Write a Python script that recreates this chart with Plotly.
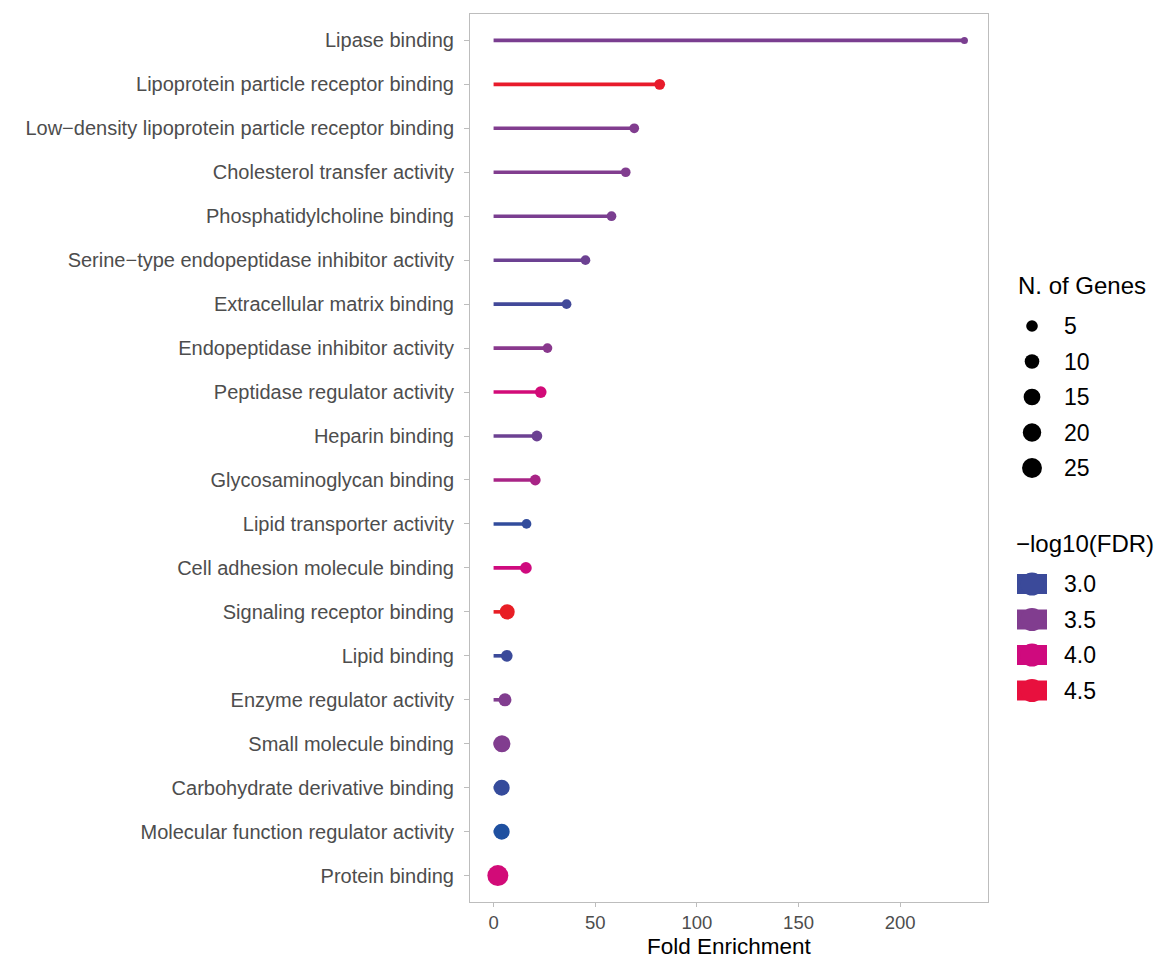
import numpy as np
import plotly.graph_objects as go

# GO molecular-function enrichment results
terms = [
    "Lipase binding",
    "Lipoprotein particle receptor binding",
    "Low\u2212density lipoprotein particle receptor binding",
    "Cholesterol transfer activity",
    "Phosphatidylcholine binding",
    "Serine\u2212type endopeptidase inhibitor activity",
    "Extracellular matrix binding",
    "Endopeptidase inhibitor activity",
    "Peptidase regulator activity",
    "Heparin binding",
    "Glycosaminoglycan binding",
    "Lipid transporter activity",
    "Cell adhesion molecule binding",
    "Signaling receptor binding",
    "Lipid binding",
    "Enzyme regulator activity",
    "Small molecule binding",
    "Carbohydrate derivative binding",
    "Molecular function regulator activity",
    "Protein binding",
]
fold_enrichment = [231.6, 81.7, 69.2, 65.0, 58.0, 45.2, 35.9, 26.5, 23.2, 21.3,
                   20.5, 16.2, 15.9, 6.7, 6.5, 5.6, 4.1, 4.0, 4.0, 2.1]
n_genes = [2, 4, 3, 3, 3, 3, 3, 3, 5, 4, 4, 3, 5, 11, 5, 7, 16, 13, 13, 29]
neg_log10_fdr = [3.45, 4.65, 3.5, 3.5, 3.45, 3.35, 3.05, 3.55, 4.05, 3.35,
                 3.75, 2.95, 4.0, 4.7, 3.0, 3.5, 3.5, 2.97, 2.85, 4.05]

size_breaks = [5, 10, 15, 20, 25]
color_breaks = [3.0, 3.5, 4.0, 4.5]

# colour gradient for -log10(FDR)
grad_vals = [2.85, 3.0, 3.5, 4.0, 4.5, 4.7]
grad_cols = ["#1F50A0", "#3B4A9A", "#813D8F", "#CF0A7E", "#E8103E", "#E81E25"]


def hex_rgb(h):
    h = h.lstrip("#")
    return np.array([int(h[i:i + 2], 16) for i in (0, 2, 4)], dtype=float)


grad_rgb = np.array([hex_rgb(c) for c in grad_cols])


def fdr_color(v):
    rgb = [np.interp(v, grad_vals, grad_rgb[:, k]) for k in range(3)]
    return "rgb({:.0f},{:.0f},{:.0f})".format(*rgb)


# point diameter (px) scaled by area between the gene-count limits
N_MIN, N_MAX = 2, 29
D_MIN, D_MAX = 7.0, 21.0


def gene_size(n):
    t = (n - N_MIN) / (N_MAX - N_MIN)
    return D_MIN + (D_MAX - D_MIN) * np.sqrt(max(t, 0.0))


W, H = 1161, 960
PLOT_L, PLOT_R, PLOT_T, PLOT_B = 470, 988, 14, 902
FONT = "Liberation Sans, Arial, sans-serif"

fig = go.Figure()

# lollipop stems
for term, fe, fd in zip(terms, fold_enrichment, neg_log10_fdr):
    fig.add_trace(go.Scatter(
        x=[0, fe], y=[term, term], mode="lines",
        line=dict(color=fdr_color(fd), width=3.6),
        hoverinfo="skip", showlegend=False,
    ))

# lollipop heads
fig.add_trace(go.Scatter(
    x=fold_enrichment, y=terms, mode="markers",
    marker=dict(size=[gene_size(n) for n in n_genes],
                color=[fdr_color(v) for v in neg_log10_fdr],
                line=dict(width=0), opacity=1),
    customdata=np.column_stack([n_genes, neg_log10_fdr]),
    hovertemplate="%{y}<br>Fold Enrichment: %{x}<br>N. of Genes: %{customdata[0]}"
                  "<br>-log10(FDR): %{customdata[1]}<extra></extra>",
    showlegend=False,
))

# ---- hand-built legends on a pixel-unit helper axis ----
LEG_X = 1032
LABEL_X = 1062
SIZE_TITLE_Y = 285
SIZE_Y0, STEP = 326, 35.5
COLOR_TITLE_Y = 543
COLOR_Y0 = 584

size_ys = [SIZE_Y0 + i * STEP for i in range(len(size_breaks))]
fig.add_trace(go.Scatter(
    x=[LEG_X] * len(size_breaks), y=size_ys, mode="markers",
    marker=dict(size=[gene_size(n) for n in size_breaks], color="#000000",
                line=dict(width=0), opacity=1),
    xaxis="x2", yaxis="y2", hoverinfo="skip", showlegend=False,
))

color_ys = [COLOR_Y0 + i * STEP for i in range(len(color_breaks))]
for cy, cv in zip(color_ys, color_breaks):
    col = fdr_color(cv)
    fig.add_trace(go.Scatter(
        x=[LEG_X - 15, LEG_X + 15], y=[cy, cy], mode="lines",
        line=dict(color=col, width=20),
        xaxis="x2", yaxis="y2", hoverinfo="skip", showlegend=False,
    ))
    fig.add_trace(go.Scatter(
        x=[LEG_X], y=[cy], mode="markers",
        marker=dict(size=23, color=col, line=dict(width=0), opacity=1),
        xaxis="x2", yaxis="y2", hoverinfo="skip", showlegend=False,
    ))

annotations = []
annotations.append(dict(x=1016, y=SIZE_TITLE_Y, xref="x2", yref="y2", text="N. of Genes",
                        showarrow=False, xanchor="left", yanchor="middle",
                        font=dict(family=FONT, size=24, color="black")))
for yy, v in zip(size_ys, size_breaks):
    annotations.append(dict(x=LABEL_X, y=yy, xref="x2", yref="y2", text=str(v),
                            showarrow=False, xanchor="left", yanchor="middle",
                            font=dict(family=FONT, size=23, color="black")))
annotations.append(dict(x=1014, y=COLOR_TITLE_Y, xref="x2", yref="y2", text="\u2212log10(FDR)",
                        showarrow=False, xanchor="left", yanchor="middle",
                        font=dict(family=FONT, size=24, color="black")))
for yy, v in zip(color_ys, color_breaks):
    annotations.append(dict(x=LABEL_X, y=yy, xref="x2", yref="y2", text=f"{v:.1f}",
                            showarrow=False, xanchor="left", yanchor="middle",
                            font=dict(family=FONT, size=23, color="black")))

# x-axis title placed under the tick labels
annotations.append(dict(x=0.5, xref="x domain", y=-(946 - PLOT_B) / (PLOT_B - PLOT_T),
                        yref="paper", text="Fold Enrichment", showarrow=False,
                        xanchor="center", yanchor="middle",
                        font=dict(family=FONT, size=22.5, color="black")))

fig.update_layout(
    width=W, height=H,
    margin=dict(l=0, r=0, t=PLOT_T, b=H - PLOT_B, autoexpand=False),
    paper_bgcolor="white", plot_bgcolor="white",
    font=dict(family=FONT, color="#4D4D4D"),
    annotations=annotations,
    xaxis=dict(
        domain=[PLOT_L / W, PLOT_R / W],
        range=[-11.6, 243.2],
        tickvals=[0, 50, 100, 150, 200],
        ticks="outside", ticklen=4, tickcolor="#BDBDBD", tickwidth=1,
        tickfont=dict(family=FONT, size=18.5, color="#4D4D4D"),
        ticklabelstandoff=0,
        showgrid=False, zeroline=False,
        showline=True, linecolor="#BDBDBD", linewidth=1, mirror=True,
        automargin=False,
    ),
    yaxis=dict(
        type="category",
        categoryorder="array", categoryarray=terms[::-1],
        range=[-0.6, len(terms) - 0.4],
        ticks="outside", ticklen=5, tickcolor="#BDBDBD", tickwidth=1,
        tickfont=dict(family=FONT, size=20, color="#4D4D4D"),
        ticklabelstandoff=6,
        showgrid=False, zeroline=False,
        showline=True, linecolor="#BDBDBD", linewidth=1, mirror=True,
        automargin=False,
    ),
    xaxis2=dict(domain=[1000 / W, 1.0], range=[1000, W], visible=False, fixedrange=True),
    yaxis2=dict(domain=[0, 1], range=[PLOT_B, PLOT_T], visible=False, fixedrange=True,
                anchor="x2"),
    showlegend=False,
)

fig.write_html("out.html")
